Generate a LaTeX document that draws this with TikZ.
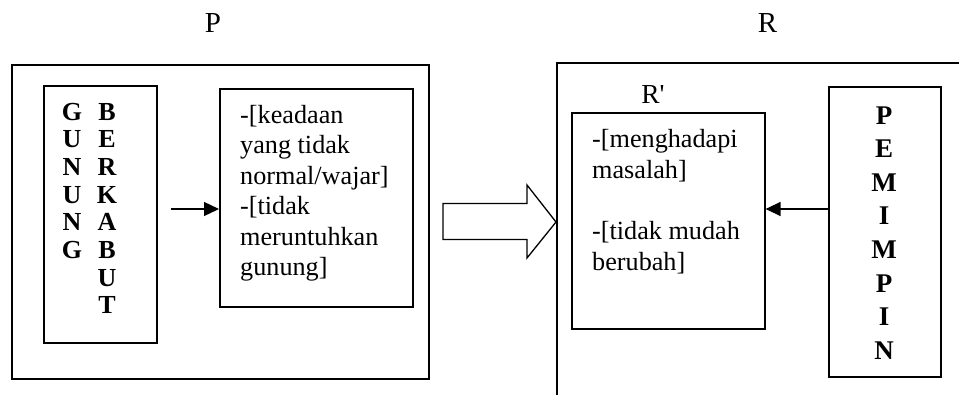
\documentclass[tikz,border=0pt]{standalone}
\usepackage{fontspec}
\setmainfont{Liberation Serif}
\usetikzlibrary{arrows.meta}
\begin{document}
\begin{tikzpicture}[x=1pt,y=-1pt,
  box/.style={draw,line width=1.6pt,inner sep=0pt,anchor=north west},
  conn/.style={line width=1.3pt,-{Triangle[length=15pt,width=14pt]}},
  body/.style={anchor=base west,inner sep=0pt,font=\fontsize{26.2}{30.5}\selectfont},
  stack/.style={anchor=base,inner sep=0pt,font=\fontsize{26}{27.7}\selectfont\bfseries},
  title/.style={anchor=base,inner sep=0pt,font=\fontsize{29}{32}\selectfont}]
\clip (0,0) rectangle (959,394);

% outer frames
\node[box,minimum width=417pt,minimum height=314pt] (P) at (11,64) {};
\node[box,minimum width=420pt,minimum height=350pt] (R) at (556,62) {};
\node[title] (Plab) at (213,32.7) {P};
\node[title] (Rlab) at (767.5,32.7) {R};
\node[title,font=\fontsize{27.5}{30}\selectfont] (Rplab) at (653,103) {R\textquotesingle};

% left frame: vertical title and description
\node[box,minimum width=113pt,minimum height=257pt] (gb) at (43,85) {};
\foreach \c [count=\i from 0] in {G,U,N,U,N,G}
  \node[stack] (g\i) at (72,120+27.7*\i) {\c};
\foreach \c [count=\i from 0] in {B,E,R,K,A,B,U,T}
  \node[stack] (b\i) at (107,120+27.7*\i) {\c};

\node[box,minimum width=193pt,minimum height=218pt] (ket) at (219,88) {};
\node[body] (k1) at (240,123) {-[keadaan};
\node[body] (k2) at (240,153.5) {yang tidak};
\node[body] (k3) at (240,184) {normal/wajar]};
\node[body] (k4) at (240,214.5) {-[tidak};
\node[body] (k5) at (240,245) {meruntuhkan};
\node[body] (k6) at (240,275.5) {gunung]};

% right frame: R' box and vertical title
\node[box,minimum width=193pt,minimum height=216pt] (rp) at (571,112) {};
\node[body] (r1) at (592,147) {-[menghadapi};
\node[body] (r2) at (592,178) {masalah]};
\node[body] (r3) at (592,239) {-[tidak mudah};
\node[body] (r4) at (592,270) {berubah]};

\node[box,minimum width=112pt,minimum height=290pt] (pm) at (828,86) {};
\foreach \c [count=\i from 0] in {P,E,M,I,M,P,I,N}
  \node[stack,font=\fontsize{27}{30}\selectfont\bfseries] (p\i) at (884,124+33.6*\i) {\c};

% connectors
\coordinate (lvl) at (0,209);
\coordinate (a1) at (171,209);
\draw[conn] (a1) -- (a1 -| ket.west);
\draw[conn] (pm.west |- lvl) -- (rp.east |- lvl);

% hollow block arrow from P to R
\draw[line width=1.3pt,line join=miter,fill=white]
  (443,203.5) -- (527,203.5) -- (527,185) -- (R.west |- 0,222) -- (527,258)
  -- (527,239.5) -- (443,239.5) -- cycle;
\end{tikzpicture}
\end{document}
